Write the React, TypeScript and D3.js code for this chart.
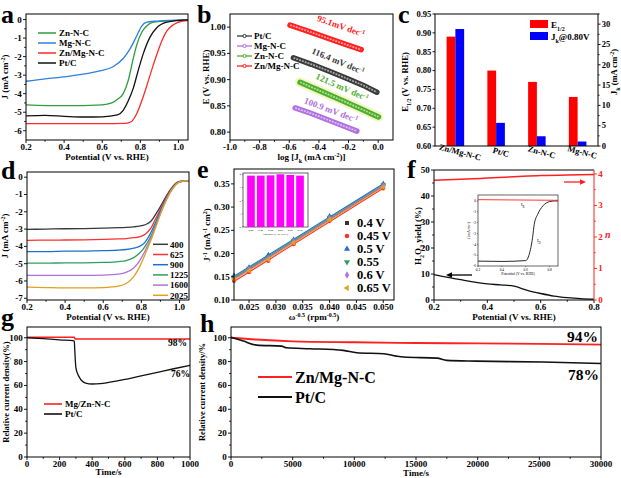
import React from 'react';
import * as d3 from 'd3';

const F = '"Liberation Serif","Times New Roman",serif';

// ---------- panel a ----------
const aZnV = [0.2, 0.4, 0.6, 0.65, 0.68, 0.71, 0.736, 0.763, 0.78, 0.807, 0.833, 0.868, 0.95, 1.05];
const aZnJ = [-4.6, -4.65, -4.6, -4.5, -4.3, -4.0, -3.3, -2.1, -1.4, -0.7, -0.35, -0.14, -0.07, -0.02];
const aMgV = [0.2, 0.3, 0.411, 0.5, 0.587, 0.657, 0.71, 0.745, 0.78, 0.807, 0.833, 0.886, 0.95, 1.05];
const aMgJ = [-3.33, -3.2, -3.08, -2.95, -2.77, -2.55, -2.1, -1.6, -0.9, -0.35, -0.14, -0.08, -0.04, -0.02];
const aPtV = [0.2, 0.3, 0.4, 0.5, 0.6, 0.68, 0.71, 0.736, 0.763, 0.79, 0.815, 0.85, 0.886, 0.94, 1.0, 1.05];
const aPtJ = [-5.2, -5.17, -5.22, -5.26, -5.25, -5.15, -4.9, -4.4, -3.7, -2.7, -1.85, -0.96, -0.44, -0.14, -0.05, -0.02];
const aZnMgV = [0.2, 0.4, 0.6, 0.72, 0.754, 0.78, 0.807, 0.833, 0.86, 0.886, 0.913, 0.94, 0.975, 1.02, 1.05];
const aZnMgJ = [-5.62, -5.62, -5.62, -5.6, -5.5, -5.1, -4.4, -3.6, -2.7, -1.9, -1.15, -0.6, -0.27, -0.09, -0.05];
const aLegend = ['Zn-N-C', 'Mg-N-C', 'Zn/Mg-N-C', 'Pt/C'];
const aColors = ['#2e9e3a', '#2f7fdc', '#ff2a2a', '#111'];

// ---------- panel b ----------
const bPtX = [-0.572, -0.45, -0.33, -0.21, -0.1, -0.009];
const bPtY = [0.9416, 0.9292, 0.916, 0.902, 0.889, 0.876];
const bMgX = [-0.56, -0.45, -0.35, -0.25, -0.144];
const bMgY = [0.846, 0.8355, 0.8245, 0.8135, 0.802];
const bZnX = [-0.527, -0.4, -0.27, -0.13, 0.002];
const bZnY = [0.895, 0.8795, 0.8635, 0.846, 0.829];
const bZnMgX = [-0.595, -0.47, -0.35, -0.23, -0.115];
const bZnMgY = [1.004, 0.992, 0.98, 0.968, 0.957];
const bLegend = ['Pt/C', 'Mg-N-C', 'Zn-N-C', 'Zn/Mg-N-C'];
const bColors = ['#3a3a3a', '#b070e0', '#4caf2a', '#ff2020'];
const bSlopes = ['116.4 mV dec', '100.9 mV dec', '121.5 mV dec', '95.1mV dec'];

// ---------- panel c ----------
const cCats = ['Zn/Mg-N-C', 'Pt/C', 'Zn-N-C', 'Mg-N-C'];
const cE12 = [0.89, 0.8, 0.77, 0.73];
const cJk = [28.8, 5.7, 2.4, 1.1];

// ---------- panel d ----------
const dV = [0.2, 0.3, 0.4, 0.5, 0.6, 0.68, 0.72, 0.76, 0.79, 0.82, 0.85, 0.875, 0.9, 0.93, 0.96, 1.0, 1.05];
const dRpm = ['400', '625', '900', '1225', '1600', '2025'];
const dJ400 = [-3.02, -3.0, -2.98, -2.97, -2.95, -2.92, -2.9, -2.87, -2.83, -2.75, -2.55, -2.15, -1.7, -1.1, -0.6, -0.25, -0.2];
const dJ625 = [-3.65, -3.64, -3.63, -3.62, -3.6, -3.57, -3.55, -3.5, -3.45, -3.3, -2.95, -2.4, -1.85, -1.2, -0.65, -0.26, -0.2];
const dJ900 = [-4.3, -4.3, -4.28, -4.27, -4.25, -4.22, -4.18, -4.1, -4.0, -3.75, -3.2, -2.6, -1.95, -1.25, -0.68, -0.27, -0.2];
const dJ1225 = [-4.97, -4.97, -4.95, -4.95, -4.93, -4.88, -4.82, -4.65, -4.4, -4.0, -3.4, -2.75, -2.05, -1.3, -0.7, -0.27, -0.2];
const dJ1600 = [-5.68, -5.68, -5.68, -5.68, -5.66, -5.6, -5.5, -5.25, -4.85, -4.25, -3.55, -2.85, -2.1, -1.33, -0.72, -0.28, -0.2];
const dJ2025 = [-6.35, -6.38, -6.4, -6.4, -6.38, -6.3, -6.15, -5.75, -5.2, -4.45, -3.65, -2.9, -2.15, -1.35, -0.73, -0.28, -0.2];
const dColors = ['#3a3a3a', '#ff3030', '#1f6fd0', '#2ca05a', '#b070e0', '#e0a020'];

// ---------- panel e ----------
const eX = [0.0222, 0.025, 0.0286, 0.0333, 0.04, 0.05];
const eLabels = ['0.4 V', '0.45 V', '0.5 V', '0.55', '0.6 V', '0.65 V'];
const eY04 = [0.148, 0.165, 0.19, 0.225, 0.275, 0.345];
const eY045 = [0.141, 0.16, 0.184, 0.22, 0.27, 0.34];
const eY05 = [0.152, 0.17, 0.197, 0.23, 0.28, 0.35];
const eY055 = [0.15, 0.168, 0.193, 0.228, 0.278, 0.348];
const eY06 = [0.147, 0.166, 0.19, 0.226, 0.276, 0.346];
const eY065 = [0.145, 0.163, 0.187, 0.223, 0.273, 0.343];
const eColors = ['#333', '#ff3030', '#1f6fd0', '#2ca05a', '#b070e0', '#e0a020'];
const eSymbols = [d3.symbolSquare, d3.symbolCircle, d3.symbolTriangle, d3.symbolTriangle, d3.symbolDiamond, d3.symbolTriangle];
const eRot = [0, 0, 0, 180, 0, -90];
const eInsetCats = ['0.40', '0.45', '0.50', '0.55', '0.60', '0.65'];
const eInsetN = [3.9, 3.9, 3.92, 4.0, 3.95, 3.9];

// ---------- panel f ----------
const fV = [0.2, 0.3, 0.4, 0.45, 0.5, 0.55, 0.6, 0.65, 0.7, 0.75, 0.8];
const fH2O2 = [9.8, 7.8, 6.2, 5.8, 5.3, 3.7, 2.5, 1.5, 0.9, 0.5, 0.3];
const fNV = [0.2, 0.3, 0.4, 0.5, 0.6, 0.7, 0.8];
const fN = [3.8, 3.83, 3.87, 3.91, 3.95, 3.97, 3.98];
const fInV = [0.2, 0.4, 0.6, 0.629, 0.657, 0.671, 0.7, 0.743, 0.8, 0.843, 0.87];
const fInID = [-5.55, -5.58, -5.5, -4.92, -3.38, -2.15, -1.23, -0.46, -0.06, 0, 0];
const fInIRV = [0.2, 0.87];
const fInIR = [0.12, 0.06];

// ---------- panel g ----------
const gRedT = [0, 290, 296, 1000];
const gRedY = [100.4, 100.4, 98.9, 98.9];
const gBlkT = [0, 100, 200, 290, 293, 296, 300, 310, 325, 340, 360, 400, 450, 500, 600, 700, 800, 900, 1000];
const gBlkY = [100, 99.2, 98.2, 97.3, 90, 82, 75, 70, 66, 63.5, 62, 61.2, 61.5, 62.5, 65, 68, 71, 74, 76.8];

// ---------- panel h ----------
const hRedT = [0, 2000, 5000, 10000, 15000, 20000, 25000, 30000];
const hRedY = [100, 98.5, 97, 96.2, 95.6, 95.2, 94.8, 94.3];
const hBlkT = [0, 1000, 2083, 4100, 4500, 6400, 9100, 10200, 12400, 13400, 14000, 16700, 17500, 19900, 25300, 30000];
const hBlkY = [100.4, 97.2, 93.8, 93, 91.6, 90.8, 89.4, 87.4, 86.6, 84.6, 83.8, 82.9, 81, 80.4, 79.6, 78.4];

// ---------- helpers ----------
const lin = (d0: number, d1: number, r0: number, r1: number) => d3.scaleLinear().domain([d0, d1]).range([r0, r1]);
const rng = (a: number, b: number, s: number) => d3.range(a, b + s / 2, s).map((v) => +v.toFixed(6));

function path(xs: number[], ys: number[], sx: any, sy: any, curve: any = d3.curveMonotoneX) {
  return d3.line<number>().x((_, i) => sx(xs[i])).y((_, i) => sy(ys[i])).curve(curve)(xs) || '';
}

type AxP = { s: any; o: 'b' | 'l' | 'r'; p: number; t: number[]; m?: number[]; f?: (v: number) => string; fs?: number; col?: string; len?: number };
function Ax({ s, o, p, t, m = [], f = (v) => String(v), fs = 9, col = '#000', len = 3 }: AxP) {
  const out: any[] = [];
  const ml = len * 0.6;
  m.forEach((v, i) => {
    const q = s(v);
    if (o === 'b') out.push(<line key={'m' + i} x1={q} x2={q} y1={p} y2={p + ml} stroke={col} />);
    if (o === 'l') out.push(<line key={'m' + i} x1={p - ml} x2={p} y1={q} y2={q} stroke={col} />);
    if (o === 'r') out.push(<line key={'m' + i} x1={p} x2={p + ml} y1={q} y2={q} stroke={col} />);
  });
  t.forEach((v, i) => {
    const q = s(v);
    if (o === 'b') {
      out.push(<line key={'t' + i} x1={q} x2={q} y1={p} y2={p + len} stroke={col} />);
      out.push(<text key={'l' + i} x={q} y={p + len + fs * 0.8} textAnchor="middle">{f(v)}</text>);
    } else if (o === 'l') {
      out.push(<line key={'t' + i} x1={p - len} x2={p} y1={q} y2={q} stroke={col} />);
      out.push(<text key={'l' + i} x={p - len - 1.2} y={q + fs * 0.33} textAnchor="end">{f(v)}</text>);
    } else {
      out.push(<line key={'t' + i} x1={p} x2={p + len} y1={q} y2={q} stroke={col} />);
      out.push(<text key={'l' + i} x={p + len + 1.2} y={q + fs * 0.33} textAnchor="start">{f(v)}</text>);
    }
  });
  return <g fontFamily={F} fontWeight="bold" fontSize={fs} fill={col} strokeWidth={0.9}>{out}</g>;
}

function Box({ x0, x1, y0, y1, sw = 1 }: any) {
  return <rect x={x0} y={y0} width={x1 - x0} height={y1 - y0} fill="none" stroke="#000" strokeWidth={sw} />;
}

function VTitle({ x, y, children, fs = 9, col = '#000' }: any) {
  return (
    <text transform={`translate(${x},${y}) rotate(-90)`} textAnchor="middle" fontFamily={F} fontWeight="bold" fontSize={fs} fill={col}>
      {children}
    </text>
  );
}
function HTitle({ x, y, children, fs = 9 }: any) {
  return (
    <text x={x} y={y} textAnchor="middle" fontFamily={F} fontWeight="bold" fontSize={fs}>
      {children}
    </text>
  );
}
const Sup = ({ c, fs = 6 }: any) => <tspan fontSize={fs} baselineShift="super">{c}</tspan>;
const Sub = ({ c, fs = 6 }: any) => <tspan fontSize={fs} baselineShift="sub">{c}</tspan>;

function Letter({ x, y, c }: any) {
  return <text x={x} y={y} fontFamily={F} fontWeight="bold" fontSize={26}>{c}</text>;
}

// ---------- panels ----------
function PanelA() {
  const X0 = 26, X1 = 188, Y0 = 14, Y1 = 140;
  const sx = lin(0.2, 1.05, X0, X1);
  const sy = lin(0.3, -6.5, Y0, Y1);
  const series = [
    [aZnV, aZnJ],
    [aMgV, aMgJ],
    [aZnMgV, aZnMgJ],
    [aPtV, aPtJ],
  ];
  return (
    <g>
      {series.map(([xs, ys], i) => (
        <path key={i} d={path(xs, ys, sx, sy)} fill="none" stroke={aColors[i]} strokeWidth={1.3} />
      ))}
      <Box x0={X0} x1={X1} y0={Y0} y1={Y1} />
      <Ax s={sx} o="b" p={Y1} t={[0.2, 0.4, 0.6, 0.8, 1.0]} m={[0.3, 0.5, 0.7, 0.9]} f={(v) => v.toFixed(1)} />
      <Ax s={sy} o="l" p={X0} t={[0, -1, -2, -3, -4, -5, -6]} m={[-0.5, -1.5, -2.5, -3.5, -4.5, -5.5]} />
      {aLegend.map((l, i) => (
        <g key={l}>
          <line x1={38} x2={56} y1={33 + i * 10} y2={33 + i * 10} stroke={aColors[i]} strokeWidth={1.5} />
          <text x={59} y={36.3 + i * 10} fontFamily={F} fontWeight="bold" fontSize={9}>{l}</text>
        </g>
      ))}
      <HTitle x={(X0 + X1) / 2} y={159.5}>Potential (V vs. RHE)</HTitle>
      <VTitle x={8} y={77}>J (mA cm<Sup c="-2" />)</VTitle>
      <Letter x={1} y={23} c="a" />
    </g>
  );
}

function PanelB() {
  const X0 = 230, X1 = 393, Y0 = 14, Y1 = 140;
  const sx = lin(-1.0, 0.1, X0, X1);
  const sy = lin(1.025, 0.785, Y0, Y1);
  const series = [
    [bPtX, bPtY],
    [bMgX, bMgY],
    [bZnX, bZnY],
    [bZnMgX, bZnMgY],
  ];
  const labPos = [
    [337, 64],
    [330, 113],
    [341, 90],
    [340, 29],
  ];
  return (
    <g>
      {series.map(([xs, ys], i) => {
        const d = path(xs, ys, sx, sy, d3.curveLinear);
        return (
          <g key={i}>
            {i === 2 && <path d={d} fill="none" stroke="#f4f6c4" strokeWidth={10} strokeLinecap="round" />}
            <path d={d} fill="none" stroke={bColors[i]} strokeWidth={5.5} strokeLinecap="round" />
            <path d={d} fill="none" stroke="#fff" strokeOpacity={0.55} strokeWidth={1.8} strokeDasharray="2 1" />
          </g>
        );
      })}
      {series.map(([xs, ys], i) => {
        const ang = (Math.atan2(sy(ys[ys.length - 1]) - sy(ys[0]), sx(xs[xs.length - 1]) - sx(xs[0])) * 180) / Math.PI;
        return (
          <text key={'s' + i} transform={`translate(${labPos[i][0]},${labPos[i][1]}) rotate(${ang})`} textAnchor="middle"
            fontFamily={F} fontWeight="bold" fontSize={9} fill={bColors[i]}>
            {bSlopes[i]}<Sup c="-1" />
          </text>
        );
      })}
      <Box x0={X0} x1={X1} y0={Y0} y1={Y1} />
      <Ax s={sx} o="b" p={Y1} t={[-1.0, -0.8, -0.6, -0.4, -0.2, 0.0]} m={[-0.9, -0.7, -0.5, -0.3, -0.1]} f={(v) => v.toFixed(1)} />
      <Ax s={sy} o="l" p={X0} t={[0.8, 0.85, 0.9, 0.95, 1.0]} f={(v) => v.toFixed(2)} />
      {bLegend.map((l, i) => (
        <g key={l}>
          <line x1={237} x2={252} y1={36 + i * 10} y2={36 + i * 10} stroke={bColors[i]} strokeWidth={1.3} />
          <circle cx={244.5} cy={36 + i * 10} r={1.6} fill="#fff" stroke={bColors[i]} strokeWidth={1} />
          <text x={254} y={39.2 + i * 10} fontFamily={F} fontWeight="bold" fontSize={9}>{l}</text>
        </g>
      ))}
      <HTitle x={(X0 + X1) / 2} y={159.5}>log [J<Sub c="k" /> (mA cm<Sup c="-2" />)]</HTitle>
      <VTitle x={209} y={77}>E (V vs. RHE)</VTitle>
      <Letter x={197} y={23} c="b" />
    </g>
  );
}

function PanelC() {
  const X0 = 435, X1 = 598, Y0 = 14, Y1 = 146;
  const sb = d3.scaleBand().domain(cCats).range([X0, X1]).paddingInner(0.57).paddingOuter(0.285);
  const sl = lin(0.6, 0.95, Y1, Y0);
  const sr = lin(0, 32.5, Y1, Y0);
  const bw = sb.bandwidth() / 2;
  return (
    <g>
      {cCats.map((c, i) => (
        <g key={c}>
          <rect x={sb(c)!} y={sl(cE12[i])} width={bw} height={Y1 - sl(cE12[i])} fill="#ff0000" />
          <rect x={sb(c)! + bw} y={sr(cJk[i])} width={bw} height={Y1 - sr(cJk[i])} fill="#0000ff" />
          <text transform={`translate(${sb(c)! + bw + 4},${Y1 + 9}) rotate(15)`} textAnchor="middle"
            fontFamily={F} fontWeight="bold" fontSize={8.5}>{c}</text>
        </g>
      ))}
      <Box x0={X0} x1={X1} y0={Y0} y1={Y1} />
      <Ax s={sl} o="l" p={X0} t={rng(0.6, 0.95, 0.05)} f={(v) => v.toFixed(2)} fs={8.5} len={2.5} />
      <Ax s={sr} o="r" p={X1} t={rng(0, 30, 5)} m={rng(2.5, 32.5, 5)} fs={8.5} len={2.5} />
      <rect x={530} y={20} width={18} height={8} fill="#ff0000" />
      <rect x={530} y={32} width={18} height={8} fill="#0000ff" />
      <text x={551} y={27.5} fontFamily={F} fontWeight="bold" fontSize={9}>E<Sub c="1/2" /></text>
      <text x={551} y={39.5} fontFamily={F} fontWeight="bold" fontSize={9}>J<Sub c="k" />@0.80V</text>
      <VTitle x={408} y={82} fs={8.5}>E<Sub c="1/2" /> (V vs. RHE)</VTitle>
      <VTitle x={617} y={72} fs={8.5}>J<Sub c="k" /> (mA cm<Sup c="-2" />)</VTitle>
      <Letter x={398} y={23} c="c" />
    </g>
  );
}

function PanelD() {
  const X0 = 27, X1 = 189, Y0 = 172, Y1 = 300;
  const sx = lin(0.2, 1.05, X0, X1);
  const sy = lin(0.3, -7.1, Y0, Y1);
  const sets = [dJ400, dJ625, dJ900, dJ1225, dJ1600, dJ2025];
  return (
    <g>
      {sets.map((ys, i) => (
        <path key={i} d={path(dV, ys, sx, sy)} fill="none" stroke={dColors[i]} strokeWidth={1.3} />
      ))}
      <Box x0={X0} x1={X1} y0={Y0} y1={Y1} />
      <Ax s={sx} o="b" p={Y1} t={[0.2, 0.4, 0.6, 0.8, 1.0]} m={[0.3, 0.5, 0.7, 0.9]} f={(v) => v.toFixed(1)} />
      <Ax s={sy} o="l" p={X0} t={[0, -1, -2, -3, -4, -5, -6, -7]} />
      {dRpm.map((l, i) => {
        const y = 244.3 + i * 10.2;
        return (
          <g key={l}>
            <line x1={153} x2={168} y1={y} y2={y} stroke={dColors[i]} strokeWidth={1.5} />
            <text x={170} y={y + 3.2} fontFamily={F} fontWeight="bold" fontSize={9}>{l}</text>
          </g>
        );
      })}
      <HTitle x={(X0 + X1) / 2} y={320}>Potential (V vs. RHE)</HTitle>
      <VTitle x={8} y={236}>J (mA cm<Sup c="-2" />)</VTitle>
      <Letter x={1} y={179} c="d" />
    </g>
  );
}

function PanelE() {
  const X0 = 234, X1 = 394, Y0 = 169, Y1 = 300;
  const sx = lin(0.0222, 0.052, X0, X1);
  const sy = lin(0.1, 0.382, Y1, Y0);
  const sets = [eY04, eY045, eY05, eY055, eY06, eY065];
  const iX0 = 243, iX1 = 308, iY0 = 173, iY1 = 227;
  const ib = d3.scaleBand().domain(eInsetCats).range([iX0 + 2, iX1 - 2]).padding(0.22);
  const iy = lin(0, 4.1, iY1, iY0);
  return (
    <g>
      {sets.map((ys, i) => {
        const n = eX.length;
        const mx = d3.mean(eX)!, my = d3.mean(ys)!;
        let num = 0, den = 0;
        for (let k = 0; k < n; k++) { num += (eX[k] - mx) * (ys[k] - my); den += (eX[k] - mx) ** 2; }
        const b = num / den, a = my - b * mx;
        const xa = eX[0], xb = eX[n - 1];
        return (
          <g key={i}>
            <line x1={sx(xa)} x2={sx(xb)} y1={sy(a + b * xa)} y2={sy(a + b * xb)} stroke={eColors[i]} strokeWidth={1.1} />
            {eX.map((x, k) => (
              <path key={k} transform={`translate(${sx(x)},${sy(ys[k])}) rotate(${eRot[i]})`}
                d={d3.symbol().type(eSymbols[i]).size(14)()!} fill={eColors[i]} />
            ))}
          </g>
        );
      })}
      <rect x={iX0} y={iY0} width={iX1 - iX0} height={iY1 - iY0} fill="#fff" stroke="#000" strokeWidth={0.6} />
      {eInsetCats.map((c, i) => (
        <g key={c}>
          <rect x={ib(c)!} y={iy(eInsetN[i])} width={ib.bandwidth()} height={iY1 - iy(eInsetN[i])} fill="#ff00ff" />
          <text x={ib(c)! + ib.bandwidth() / 2} y={iY1 + 4} textAnchor="middle" fontFamily={F} fontSize={2.8}>{c}</text>
        </g>
      ))}
      {[0, 1, 2, 3, 4].map((v) => (
        <g key={v}>
          <line x1={iX0 - 1.2} x2={iX0} y1={iy(v)} y2={iy(v)} stroke="#000" strokeWidth={0.4} />
          <text x={iX0 - 2} y={iy(v) + 1} textAnchor="end" fontFamily={F} fontSize={2.8}>{v}</text>
        </g>
      ))}
      <text x={(iX0 + iX1) / 2} y={iY1 + 7.5} textAnchor="middle" fontFamily={F} fontSize={2.8}>Potential (V vs. RHE)</text>
      <Box x0={X0} x1={X1} y0={Y0} y1={Y1} />
      <Ax s={sx} o="b" p={Y1} t={[0.025, 0.03, 0.035, 0.04, 0.045, 0.05]} f={(v) => v.toFixed(3)} />
      <Ax s={sy} o="l" p={X0} t={rng(0.1, 0.35, 0.05)} f={(v) => v.toFixed(2)} />
      {eLabels.map((l, i) => {
        const y = 223 + i * 13;
        return (
          <g key={l}>
            <path transform={`translate(347,${y}) rotate(${eRot[i]})`} d={d3.symbol().type(eSymbols[i]).size(16)()!} fill={eColors[i]} />
            <text x={357} y={y + 4.4} fontFamily={F} fontWeight="bold" fontSize={12.5}>{l}</text>
          </g>
        );
      })}
      <HTitle x={(X0 + X1) / 2} y={320}>ω<Sup c="-0.5" /> (rpm<Sup c="-0.5" />)</HTitle>
      <VTitle x={210} y={235}>J<Sup c="-1" /> (mA<Sup c="-1" /> cm<Sup c="2" />)</VTitle>
      <Letter x={197} y={178} c="e" />
    </g>
  );
}

function PanelF() {
  const X0 = 434, X1 = 594, Y0 = 170, Y1 = 300;
  const sx = lin(0.2, 0.8, X0, X1);
  const sl = lin(0, 50, Y1, Y0);
  const sr = lin(0, 4.125, Y1, Y0);
  const iX0 = 478, iX1 = 558, iY0 = 195, iY1 = 266;
  const ix = lin(0.2, 0.87, iX0, iX1);
  const iy = lin(0.55, -6, iY0, iY1);
  return (
    <g>
      <path d={path(fV, fH2O2, sx, sl)} fill="none" stroke="#111" strokeWidth={1.3} />
      <path d={path(fNV, fN, sx, sr)} fill="none" stroke="#ff2020" strokeWidth={1.5} />
      <rect x={iX0} y={iY0} width={iX1 - iX0} height={iY1 - iY0} fill="#fff" stroke="#000" strokeWidth={0.6} />
      <path d={path(fInV, fInID, ix, iy)} fill="none" stroke="#111" strokeWidth={0.9} />
      <path d={path(fInIRV, fInIR, ix, iy)} fill="none" stroke="#ff2020" strokeWidth={0.9} />
      {[0.2, 0.4, 0.6, 0.8].map((v) => (
        <g key={v}>
          <line x1={ix(v)} x2={ix(v)} y1={iY1} y2={iY1 + 1.2} stroke="#000" strokeWidth={0.4} />
          <text x={ix(v)} y={iY1 + 4.5} textAnchor="middle" fontFamily={F} fontSize={3.5}>{v.toFixed(1)}</text>
        </g>
      ))}
      {[0, -1, -2, -3, -4, -5, -6].map((v) => (
        <g key={v}>
          <line x1={iX0 - 1.2} x2={iX0} y1={iy(v)} y2={iy(v)} stroke="#000" strokeWidth={0.4} />
          <text x={iX0 - 2} y={iy(v) + 1.2} textAnchor="end" fontFamily={F} fontSize={3.5}>{v}</text>
        </g>
      ))}
      <text x={(iX0 + iX1) / 2} y={iY1 + 9} textAnchor="middle" fontFamily={F} fontSize={3.8}>Potential (V vs. RHE)</text>
      <text transform={`translate(${iX0 - 8},${(iY0 + iY1) / 2}) rotate(-90)`} textAnchor="middle" fontFamily={F} fontSize={3.5}>J (mA cm<tspan fontSize={2.5} baselineShift="super">-2</tspan>)</text>
      <text x={521} y={206} fontFamily={F} fontSize={4.5}>I<tspan fontSize={3} baselineShift="sub">R</tspan></text>
      <text x={537} y={242} fontFamily={F} fontSize={4.5}>I<tspan fontSize={3} baselineShift="sub">D</tspan></text>
      <line x1={X0} x2={X1} y1={Y0} y2={Y0} stroke="#000" />
      <line x1={X0} x2={X1} y1={Y1} y2={Y1} stroke="#000" />
      <line x1={X0} x2={X0} y1={Y0} y2={Y1} stroke="#000" />
      <line x1={X1} x2={X1} y1={Y0} y2={Y1} stroke="#ff2020" />
      <Ax s={sx} o="b" p={Y1} t={[0.2, 0.4, 0.6, 0.8]} m={[0.3, 0.5, 0.7]} f={(v) => v.toFixed(1)} />
      <Ax s={sl} o="l" p={X0} t={rng(0, 50, 10)} m={rng(5, 45, 10)} />
      <Ax s={sr} o="r" p={X1} t={[0, 1, 2, 3, 4]} m={[0.5, 1.5, 2.5, 3.5]} col="#ff2020" />
      <line x1={472} x2={449} y1={275} y2={275} stroke="#000" strokeWidth={1.3} />
      <path d="M446,275 L452,272.2 L452,277.8 Z" fill="#000" />
      <line x1={564} x2={583} y1={182} y2={182} stroke="#ff2020" strokeWidth={1.3} />
      <path d="M586,182 L580,179.2 L580,184.8 Z" fill="#ff2020" />
      <HTitle x={(X0 + X1) / 2} y={320}>Potential (V vs. RHE)</HTitle>
      <VTitle x={421} y={236}>H<Sub c="2" />O<Sub c="2" /> yield (%)</VTitle>
      <text x={605} y={238} fontFamily={F} fontWeight="bold" fontStyle="italic" fontSize={10} fill="#ff2020">n</text>
      <Letter x={407} y={178} c="f" />
    </g>
  );
}

function PanelG() {
  const X0 = 27, X1 = 190, Y0 = 327, Y1 = 457;
  const sx = lin(0, 1000, X0, X1);
  const sy = lin(0, 109, Y1, Y0);
  return (
    <g>
      <path d={path(gRedT, gRedY, sx, sy, d3.curveLinear)} fill="none" stroke="#ff2020" strokeWidth={1.6} />
      <path d={path(gBlkT, gBlkY, sx, sy)} fill="none" stroke="#111" strokeWidth={1.3} />
      <Box x0={X0} x1={X1} y0={Y0} y1={Y1} />
      <Ax s={sx} o="b" p={Y1} t={rng(0, 1000, 200)} m={rng(100, 900, 200)} />
      <Ax s={sy} o="l" p={X0} t={rng(0, 100, 20)} m={rng(10, 90, 20)} />
      <text x={168} y={346} fontFamily={F} fontWeight="bold" fontSize={9.5}>98%</text>
      <text x={171} y={377} fontFamily={F} fontWeight="bold" fontSize={9.5}>76%</text>
      <line x1={44} x2={62} y1={404} y2={404} stroke="#ff2020" strokeWidth={1.6} />
      <line x1={44} x2={62} y1={414} y2={414} stroke="#111" strokeWidth={1.6} />
      <text x={65} y={407.3} fontFamily={F} fontWeight="bold" fontSize={9}>Mg/Zn-N-C</text>
      <text x={65} y={417.3} fontFamily={F} fontWeight="bold" fontSize={9}>Pt/C</text>
      <HTitle x={(X0 + X1) / 2} y={475}>Time/s</HTitle>
      <VTitle x={9} y={392} fs={8.5}>Relative current density(%)</VTitle>
      <Letter x={1} y={326} c="g" />
    </g>
  );
}

function PanelH() {
  const X0 = 231, X1 = 601, Y0 = 327, Y1 = 457;
  const sx = lin(0, 30000, X0, X1);
  const sy = lin(0, 109, Y1, Y0);
  return (
    <g>
      <path d={path(hRedT, hRedY, sx, sy)} fill="none" stroke="#ff2020" strokeWidth={1.8} />
      <path d={path(hBlkT, hBlkY, sx, sy)} fill="none" stroke="#111" strokeWidth={1.6} />
      <Box x0={X0} x1={X1} y0={Y0} y1={Y1} />
      <Ax s={sx} o="b" p={Y1} t={rng(0, 30000, 5000)} m={rng(2500, 27500, 5000)} />
      <Ax s={sy} o="l" p={X0} t={rng(0, 100, 20)} m={rng(10, 90, 20)} />
      <text x={567} y={342} fontFamily={F} fontWeight="bold" fontSize={15.5}>94%</text>
      <text x={568} y={380} fontFamily={F} fontWeight="bold" fontSize={15.5}>78%</text>
      <line x1={258} x2={292} y1={377} y2={377} stroke="#ff2020" strokeWidth={2} />
      <line x1={258} x2={292} y1={397} y2={397} stroke="#111" strokeWidth={2} />
      <text x={295} y={382.5} fontFamily={F} fontWeight="bold" fontSize={16}>Zn/Mg-N-C</text>
      <text x={295} y={402.5} fontFamily={F} fontWeight="bold" fontSize={16}>Pt/C</text>
      <HTitle x={(X0 + X1) / 2} y={476}>Time/s</HTitle>
      <VTitle x={205} y={392} fs={8.5}>Relative current density/%</VTitle>
      <Letter x={200} y={332} c="h" />
    </g>
  );
}

export default function App() {
  return (
    <svg width={621} height={478} style={{ position: 'absolute', left: 0, top: 0, background: '#fff' }}>
      <rect width={621} height={478} fill="#fff" />
      <PanelA />
      <PanelB />
      <PanelC />
      <PanelD />
      <PanelE />
      <PanelF />
      <PanelG />
      <PanelH />
    </svg>
  );
}
